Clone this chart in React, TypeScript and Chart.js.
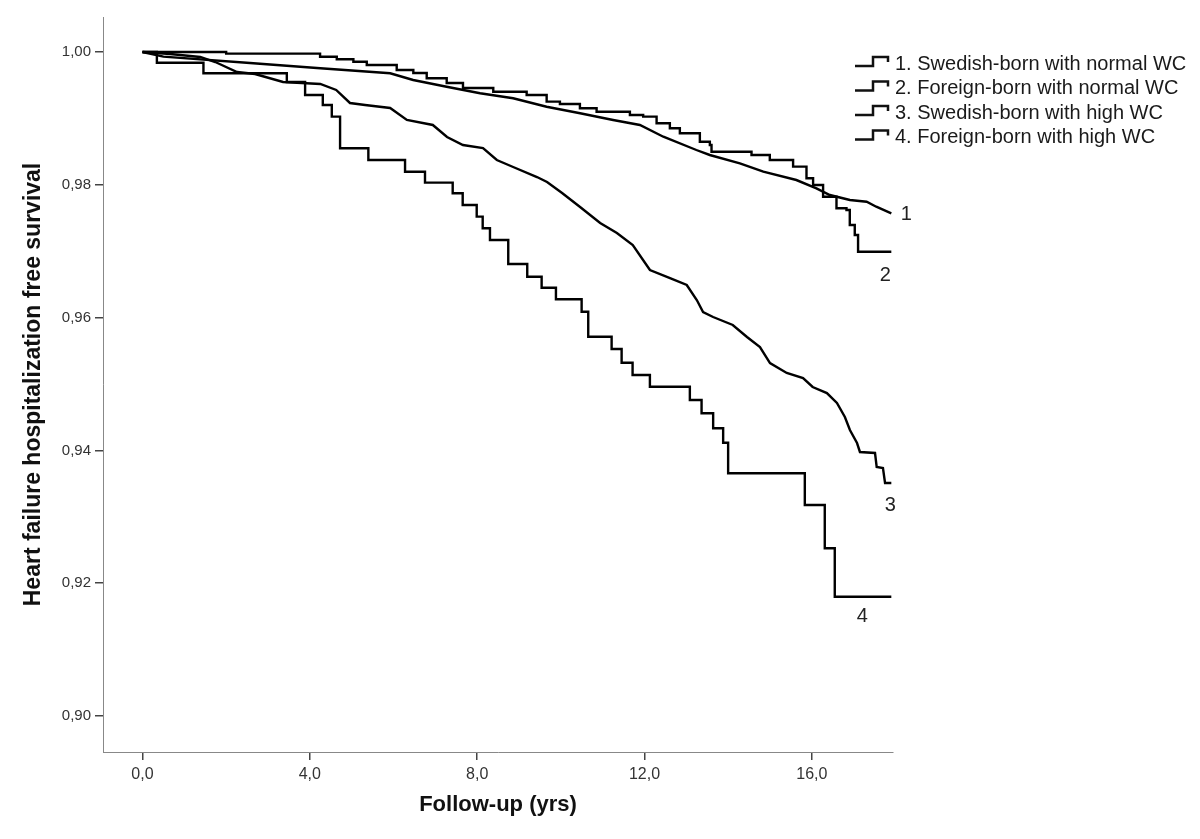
import React, { useEffect, useRef } from 'react';
import { Chart, registerables } from 'chart.js';

Chart.register(...registerables);

// ---------- data ----------
const xTicks = [0, 4, 8, 12, 16];
const yTicks = [0.9, 0.92, 0.94, 0.96, 0.98, 1.0];

const legendLabels = [
  '1. Swedish-born with normal WC',
  '2. Foreign-born with normal WC',
  '3. Swedish-born with high WC',
  '4. Foreign-born with high WC',
];
const endLabels = ['1', '2', '3', '4'];

// 1. Swedish-born with normal WC
const c1Time = [0, 0.5, 2.57, 4.25, 5.92, 6.47, 7.27, 8.07, 8.86, 9.66, 10.46, 11.25, 11.89, 12.45, 13.24, 13.56, 14.28, 14.84, 15.63, 16.11, 16.43, 16.91, 17.31, 17.54, 17.9];
const c1Surv = [1.0, 0.9993, 0.99834, 0.99756, 0.99679, 0.99578, 0.99477, 0.99378, 0.99303, 0.99176, 0.99077, 0.98976, 0.98901, 0.98724, 0.98524, 0.98449, 0.98324, 0.98197, 0.98072, 0.97947, 0.97846, 0.97771, 0.97745, 0.9767, 0.97571];

// 2. Foreign-born with normal WC
const c2Time = [0, 2.0, 4.245, 4.644, 5.041, 5.361, 6.077, 6.474, 6.794, 7.272, 7.661, 8.385, 9.183, 9.661, 9.978, 10.456, 10.855, 11.651, 11.968, 12.289, 12.606, 12.845, 13.323, 13.562, 13.602, 14.558, 14.995, 15.552, 15.872, 16.03, 16.269, 16.589, 16.828, 16.907, 17.026, 17.105, 17.9];
const c2Surv = [1.0, 0.99975, 0.99929, 0.9989, 0.99854, 0.99804, 0.99729, 0.99684, 0.99604, 0.99533, 0.99458, 0.99402, 0.99352, 0.99252, 0.99217, 0.99152, 0.99101, 0.99051, 0.99026, 0.98926, 0.98851, 0.98776, 0.98649, 0.98599, 0.98498, 0.98449, 0.98373, 0.98273, 0.98098, 0.97997, 0.97821, 0.97646, 0.9762, 0.97395, 0.97244, 0.96992, 0.96992];

// 3. Swedish-born with high WC
const c3Time = [0, 0.66, 1.38, 1.74, 2.26, 2.69, 3.36, 4.25, 4.63, 4.96, 5.32, 5.92, 6.32, 6.94, 7.28, 7.66, 8.14, 8.47, 8.86, 9.43, 9.67, 10.03, 10.46, 10.94, 11.34, 11.72, 12.13, 12.61, 13.01, 13.25, 13.4, 13.64, 14.11, 14.45, 14.76, 15.0, 15.4, 15.79, 16.02, 16.36, 16.6, 16.79, 16.91, 17.08, 17.15, 17.51, 17.55, 17.7, 17.75, 17.9];
const c3Surv = [1.0, 0.9997, 0.99925, 0.99849, 0.99699, 0.99669, 0.99548, 0.99518, 0.99428, 0.99232, 0.99202, 0.99157, 0.98976, 0.98901, 0.9872, 0.98599, 0.98554, 0.98373, 0.98268, 0.98117, 0.98042, 0.97877, 0.97666, 0.97425, 0.97274, 0.97093, 0.96717, 0.96596, 0.96491, 0.96265, 0.96084, 0.96009, 0.95889, 0.95708, 0.95557, 0.95316, 0.95166, 0.9509, 0.94955, 0.94864, 0.94714, 0.94503, 0.94307, 0.94111, 0.93976, 0.93961, 0.9375, 0.93735, 0.93509, 0.93509];

// 4. Foreign-born with high WC
const c4Time = [0, 0.344, 1.457, 3.45, 3.887, 4.31, 4.525, 4.723, 5.399, 6.276, 6.753, 7.415, 7.654, 7.989, 8.132, 8.306, 8.743, 9.197, 9.541, 9.883, 10.497, 10.655, 11.214, 11.453, 11.715, 12.129, 13.084, 13.364, 13.641, 13.88, 13.999, 15.832, 16.309, 16.548, 17.9];
const c4Surv = [1.0, 0.99839, 0.99679, 0.99548, 0.99352, 0.99202, 0.99026, 0.9855, 0.98373, 0.98197, 0.98032, 0.97872, 0.97696, 0.9752, 0.97345, 0.97169, 0.96807, 0.96616, 0.9645, 0.96276, 0.96089, 0.95712, 0.95527, 0.95321, 0.95136, 0.94959, 0.94759, 0.94559, 0.94333, 0.94116, 0.93655, 0.93178, 0.92526, 0.91797, 0.91797];

const seriesTimes = [c1Time, c2Time, c3Time, c4Time];
const seriesSurv = [c1Surv, c2Surv, c3Surv, c4Surv];
const seriesStepped = [false, true, false, true];

// ---------- styles ----------
const FONT = '"Liberation Sans", Arial, Helvetica, sans-serif';
const endLabelOffsets = [[15, 1], [-6, 24], [-1, 22], [-29, 20]];
const LEGEND_X = 855;
const LEGEND_Y0 = 63;
const LEGEND_DY = 24.5;

const toPairs = (t: number[], s: number[]) => t.map((v, i) => ({ x: v, y: s[i] }));

const annotatePlugin = {
  id: 'kmAnnotate',
  afterDatasetsDraw(chart: any) {
    const { ctx, scales } = chart;
    const xs = scales.x;
    const ys = scales.y;
    ctx.save();
    // curve end labels
    ctx.font = `20px ${FONT}`;
    ctx.fillStyle = '#222';
    ctx.textAlign = 'center';
    ctx.textBaseline = 'middle';
    seriesTimes.forEach((t, i) => {
      const px = xs.getPixelForValue(t[t.length - 1]);
      const py = ys.getPixelForValue(seriesSurv[i][seriesSurv[i].length - 1]);
      ctx.fillText(endLabels[i], px + endLabelOffsets[i][0], py + endLabelOffsets[i][1]);
    });
    // legend
    ctx.textAlign = 'left';
    legendLabels.forEach((lab, i) => {
      const y = LEGEND_Y0 + i * LEGEND_DY;
      ctx.strokeStyle = '#111';
      ctx.lineWidth = 2.5;
      ctx.beginPath();
      ctx.moveTo(LEGEND_X, y + 3);
      ctx.lineTo(LEGEND_X + 18, y + 3);
      ctx.lineTo(LEGEND_X + 18, y - 6);
      ctx.lineTo(LEGEND_X + 33, y - 6);
      ctx.lineTo(LEGEND_X + 33, y - 1);
      ctx.stroke();
      ctx.fillStyle = '#1a1a1a';
      ctx.font = `20px ${FONT}`;
      ctx.fillText(lab, LEGEND_X + 40, y + 1);
    });
    ctx.restore();
  },
};

export default function App() {
  const ref = useRef<HTMLCanvasElement>(null);
  useEffect(() => {
    if (!ref.current) return;
    const chart = new Chart(ref.current, {
      type: 'line',
      data: {
        datasets: seriesTimes.map((t, i) => ({
          label: legendLabels[i],
          data: toPairs(t, seriesSurv[i]),
          borderColor: '#000',
          backgroundColor: '#000',
          borderWidth: 2.4,
          pointRadius: 0,
          fill: false,
          tension: 0,
          stepped: seriesStepped[i] ? 'before' : false,
        })),
      },
      options: {
        animation: false,
        responsive: false,
        maintainAspectRatio: false,
        layout: { padding: { left: 0, right: 307, top: 17, bottom: 0 } },
        plugins: {
          legend: { display: false },
          tooltip: { enabled: false },
        },
        scales: {
          x: {
            type: 'linear',
            min: -0.944,
            max: 17.94,
            afterBuildTicks: (s: any) => {
              s.ticks = xTicks.map((v) => ({ value: v }));
            },
            afterFit: (s: any) => {
              s.height = 87;
            },
            grid: {
              drawOnChartArea: false,
              drawTicks: true,
              tickLength: 8,
              color: '#444',
              lineWidth: 1.5,
            },
            border: { display: true, color: '#888', width: 1 },
            ticks: {
              autoSkip: false,
              maxRotation: 0,
              padding: 5,
              color: '#333',
              font: { family: FONT, size: 16 },
              callback: (v: any) => Number(v).toFixed(1).replace('.', ','),
            },
            title: {
              display: true,
              text: 'Follow-up (yrs)',
              color: '#111',
              font: { family: FONT, size: 22, weight: 'bold' },
              padding: { top: 0, bottom: 21 },
            },
          },
          y: {
            type: 'linear',
            min: 0.89458,
            max: 1.00527,
            afterBuildTicks: (s: any) => {
              s.ticks = yTicks.map((v) => ({ value: v }));
            },
            afterFit: (s: any) => {
              s.width = 103;
            },
            grid: {
              drawOnChartArea: false,
              drawTicks: true,
              tickLength: 8,
              color: '#444',
              lineWidth: 1.5,
            },
            border: { display: true, color: '#888', width: 1 },
            ticks: {
              autoSkip: false,
              padding: 4,
              color: '#333',
              font: { family: FONT, size: 15 },
              callback: (v: any) => Number(v).toFixed(2).replace('.', ','),
            },
            title: {
              display: true,
              text: 'Heart failure hospitalization free survival',
              color: '#111',
              font: { family: FONT, size: 23, weight: 'bold' },
              padding: { top: 20, bottom: 0 },
            },
          },
        },
      } as any,
      plugins: [annotatePlugin],
    });
    return () => chart.destroy();
  }, []);

  return (
    <div style={{ position: 'absolute', left: 0, top: 0, width: 1200, height: 839, background: '#fff' }}>
      <canvas ref={ref} width={1200} height={839} style={{ display: 'block', width: 1200, height: 839 }} />
    </div>
  );
}
